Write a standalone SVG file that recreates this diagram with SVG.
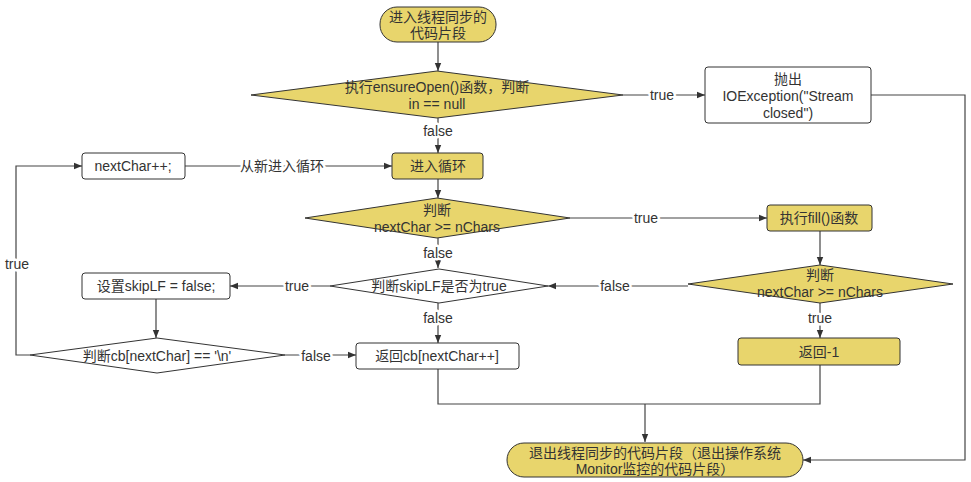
<svg xmlns="http://www.w3.org/2000/svg" width="971" height="482" viewBox="0 0 971 482">
<defs>
<marker id="arr" viewBox="0 0 10 10" refX="10" refY="5" markerWidth="8" markerHeight="8" markerUnits="userSpaceOnUse" orient="auto"><path d="M0,1 L10,5 L0,9 Z" fill="#333"/></marker>
<style>
text{font-family:"Liberation Sans","Noto Sans CJK SC",sans-serif;font-size:14px;fill:#333;text-anchor:middle;dominant-baseline:central}
.y{fill:#E8D56C;stroke:#333;stroke-width:1}
.w{fill:#fff;stroke:#333;stroke-width:1}
.c{fill:none;stroke:#444;stroke-width:1.2}
.lbl{paint-order:stroke;stroke:#fff;stroke-width:5;stroke-linejoin:round}
</style>
</defs>
<rect width="971" height="482" fill="#fff"/>
<g id="connectors">
<path class="c" d="M438,42 V71" marker-end="url(#arr)"/>
<path class="c" d="M623,95 H705" marker-end="url(#arr)"/>
<text class="lbl" x="662" y="95">true</text>
<path class="c" d="M438,118 V153" marker-end="url(#arr)"/>
<text class="lbl" x="438" y="131">false</text>
<path class="c" d="M871,95 H965 V460 H803" marker-end="url(#arr)"/>
<path class="c" d="M185,166 H392" marker-end="url(#arr)"/>
<text class="lbl" x="282" y="166">从新进入循环</text>
<path class="c" d="M438,179 V198" marker-end="url(#arr)"/>
<path class="c" d="M570,218 H767" marker-end="url(#arr)"/>
<text class="lbl" x="646" y="218">true</text>
<path class="c" d="M438,238 V268" marker-end="url(#arr)"/>
<text class="lbl" x="438" y="253">false</text>
<path class="c" d="M820,231 V265" marker-end="url(#arr)"/>
<path class="c" d="M688,286 H548" marker-end="url(#arr)"/>
<text class="lbl" x="615" y="286">false</text>
<path class="c" d="M820,303 V338" marker-end="url(#arr)"/>
<text class="lbl" x="820" y="318">true</text>
<path class="c" d="M330,286 H230" marker-end="url(#arr)"/>
<text class="lbl" x="297" y="286">true</text>
<path class="c" d="M438,303 V343" marker-end="url(#arr)"/>
<text class="lbl" x="438" y="318">false</text>
<path class="c" d="M156,299 V338" marker-end="url(#arr)"/>
<path class="c" d="M285,355 H356" marker-end="url(#arr)"/>
<text class="lbl" x="316" y="356">false</text>
<path class="c" d="M30,355 H16 V166 H82" marker-end="url(#arr)"/>
<text class="lbl" x="17" y="264">true</text>
<path class="c" d="M438,369 V404 H820 V365"/>
<path class="c" d="M645,404 V442" marker-end="url(#arr)"/>
</g>
<g id="start">
<rect class="y" x="380" y="7" width="116" height="35" rx="17"/>
<text x="438" y="17">进入线程同步的</text>
<text x="438" y="33">代码片段</text>
</g>
<g id="ensureOpen">
<polygon class="y" points="251,95 437,71 623,95 437,118"/>
<text x="437" y="87">执行ensureOpen()函数，判断</text>
<text x="437" y="104">in == null</text>
</g>
<g id="throw">
<rect class="w" x="705" y="67" width="166" height="56" rx="3"/>
<text x="788" y="79">抛出</text>
<text x="788" y="96">IOException("Stream</text>
<text x="788" y="113">closed")</text>
</g>
<g id="loop">
<rect class="y" x="392" y="153" width="91" height="26" rx="3"/>
<text x="438" y="166">进入循环</text>
</g>
<g id="nextCharInc">
<rect class="w" x="82" y="153" width="103" height="26" rx="3"/>
<text x="133" y="166">nextChar++;</text>
</g>
<g id="check1">
<polygon class="y" points="305,218 437,198 570,218 437,238"/>
<text x="437" y="210">判断</text>
<text x="437" y="227">nextChar &gt;= nChars</text>
</g>
<g id="fill">
<rect class="y" x="767" y="205" width="105" height="26" rx="3"/>
<text x="819" y="218">执行fill()函数</text>
</g>
<g id="check2">
<polygon class="y" points="688,284 820,265 953,284 820,303"/>
<text x="820" y="275">判断</text>
<text x="820" y="292">nextChar &gt;= nChars</text>
</g>
<g id="skipLF">
<polygon class="w" points="330,286 439,269 548,286 439,303"/>
<text x="439" y="286">判断skipLF是否为true</text>
</g>
<g id="setSkip">
<rect class="w" x="82" y="273" width="148" height="26" rx="3"/>
<text x="156" y="286">设置skipLF = false;</text>
</g>
<g id="cbCheck">
<polygon class="w" points="30,355 157,338 285,355 157,373"/>
<text x="157" y="356">判断cb[nextChar] == '\n'</text>
</g>
<g id="returnCb">
<rect class="w" x="356" y="343" width="163" height="26" rx="3"/>
<text x="437" y="356">返回cb[nextChar++]</text>
</g>
<g id="returnNeg">
<rect class="y" x="738" y="338" width="162" height="27" rx="3"/>
<text x="819" y="352">返回-1</text>
</g>
<g id="exit">
<rect class="y" x="507" y="443" width="296" height="34" rx="17"/>
<text x="655" y="453">退出线程同步的代码片段（退出操作系统</text>
<text x="655" y="469">Monitor监控的代码片段）</text>
</g>
</svg>
